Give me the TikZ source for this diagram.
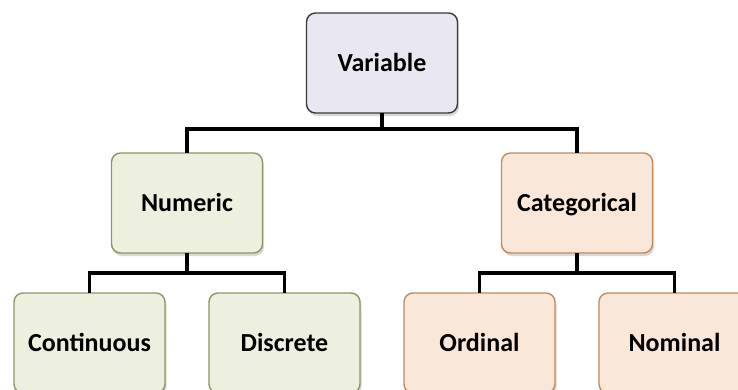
\documentclass[tikz,border=0pt]{standalone}
\usepackage{fontspec}
\setmainfont{Carlito}
\usetikzlibrary{chains,positioning,calc,shadows}

\definecolor{varfill}{HTML}{E9E7F2}
\definecolor{vardraw}{HTML}{3A3A3A}
\definecolor{numfill}{HTML}{EDF0DF}
\definecolor{numdraw}{HTML}{8A9868}
\definecolor{catfill}{HTML}{F9E7DA}
\definecolor{catdraw}{HTML}{C58A5C}

\begin{document}
\begin{tikzpicture}[
        x=1pt, y=1pt,
        start chain = going right, node distance = 44pt,
        every node/.style={rounded corners=9pt, minimum width=151pt, minimum height=100pt,
                            line width=1.4pt, outer sep=0pt, inner sep=0pt,
                            text height=16.5pt, text depth=0pt,
                            font=\fontsize{26}{30}\selectfont\bfseries,
                            drop shadow={opacity=0.3, shadow xshift=1.5pt, shadow yshift=-3pt}},
        varbox/.style={draw=vardraw, fill=varfill},
        numbox/.style={draw=numdraw, fill=numfill},
        catbox/.style={draw=catdraw, fill=catfill},
        link/.style={line width=3.2pt, black},
        ]
    \useasboundingbox[fill=white] (0,0) rectangle (738,-389);
    % bottom row
    \node[numbox, on chain] (cont) at (89.5,-343) {Continuous};
    \node[numbox, on chain] (disc) {Discrete};
    \node[catbox, on chain] (ord) {Ordinal};
    \node[catbox, on chain] (nom) {Nominal};
    % middle row
    \node[numbox, above=40pt of $(cont.north)!0.5!(disc.north)$] (num) {Numeric};
    \node[catbox, above=40pt of $(ord.north)!0.5!(nom.north)$] (cat) {Categorical};
    % top
    \node[varbox, above=40pt of $(num.north)!0.5!(cat.north)$] (var) {Variable};

    \draw[link] (var.south) -- ++(0,-16) -| (num.north);
    \draw[link] (var.south) -- ++(0,-16) -| (cat.north);
    \draw[link] (num.south) -- ++(0,-20) -| (cont.north);
    \draw[link] (num.south) -- ++(0,-20) -| (disc.north);
    \draw[link] (cat.south) -- ++(0,-20) -| (ord.north);
    \draw[link] (cat.south) -- ++(0,-20) -| (nom.north);
\end{tikzpicture}
\end{document}
